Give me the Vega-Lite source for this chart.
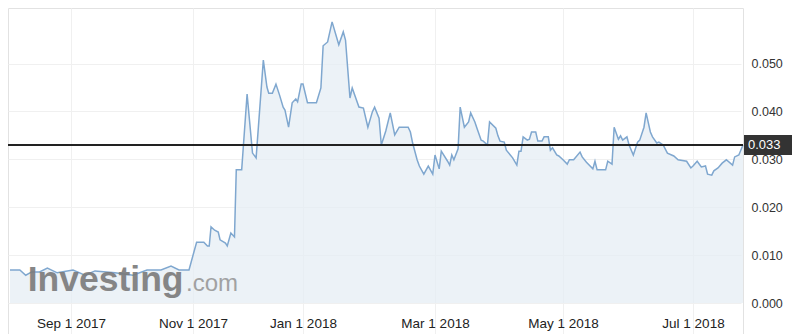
{
  "$schema": "https://vega.github.io/schema/vega-lite/v6.json",
  "width": 735,
  "height": 326,
  "autosize": "none",
  "padding": {"left": 8, "top": 8, "right": 57, "bottom": 0},
  "background": "white",
  "config": {"view": {"stroke": "#e2e2e2"}, "font": "Liberation Sans"},
  "datasets": {
    "price": [
      {"date": "2017-08-01", "value": 0.0069},
      {"date": "2017-08-06", "value": 0.0069},
      {"date": "2017-08-09", "value": 0.0058},
      {"date": "2017-08-12", "value": 0.0065},
      {"date": "2017-08-16", "value": 0.0065},
      {"date": "2017-08-20", "value": 0.0073},
      {"date": "2017-08-25", "value": 0.0063},
      {"date": "2017-09-02", "value": 0.0069},
      {"date": "2017-09-08", "value": 0.0058},
      {"date": "2017-09-13", "value": 0.0067},
      {"date": "2017-09-23", "value": 0.0063},
      {"date": "2017-10-02", "value": 0.0058},
      {"date": "2017-10-09", "value": 0.0069},
      {"date": "2017-10-16", "value": 0.0069},
      {"date": "2017-10-21", "value": 0.0077},
      {"date": "2017-10-25", "value": 0.0069},
      {"date": "2017-10-30", "value": 0.0069},
      {"date": "2017-11-03", "value": 0.0127},
      {"date": "2017-11-07", "value": 0.0127},
      {"date": "2017-11-09", "value": 0.0119},
      {"date": "2017-11-10", "value": 0.0119},
      {"date": "2017-11-11", "value": 0.0159},
      {"date": "2017-11-13", "value": 0.0152},
      {"date": "2017-11-15", "value": 0.0148},
      {"date": "2017-11-16", "value": 0.0132},
      {"date": "2017-11-19", "value": 0.0125},
      {"date": "2017-11-20", "value": 0.0119},
      {"date": "2017-11-22", "value": 0.0146},
      {"date": "2017-11-24", "value": 0.0138},
      {"date": "2017-11-25", "value": 0.0278},
      {"date": "2017-11-28", "value": 0.0278},
      {"date": "2017-12-01", "value": 0.0436},
      {"date": "2017-12-04", "value": 0.0313},
      {"date": "2017-12-06", "value": 0.0303},
      {"date": "2017-12-10", "value": 0.0507},
      {"date": "2017-12-12", "value": 0.0451},
      {"date": "2017-12-13", "value": 0.0438},
      {"date": "2017-12-15", "value": 0.0438},
      {"date": "2017-12-17", "value": 0.0457},
      {"date": "2017-12-19", "value": 0.0434},
      {"date": "2017-12-21", "value": 0.0409},
      {"date": "2017-12-22", "value": 0.0403},
      {"date": "2017-12-24", "value": 0.0367},
      {"date": "2017-12-26", "value": 0.0418},
      {"date": "2017-12-28", "value": 0.0426},
      {"date": "2017-12-29", "value": 0.0420},
      {"date": "2017-12-31", "value": 0.0457},
      {"date": "2018-01-01", "value": 0.0457},
      {"date": "2018-01-03", "value": 0.0418},
      {"date": "2018-01-07", "value": 0.0418},
      {"date": "2018-01-09", "value": 0.0449},
      {"date": "2018-01-10", "value": 0.0537},
      {"date": "2018-01-12", "value": 0.0545},
      {"date": "2018-01-14", "value": 0.0587},
      {"date": "2018-01-17", "value": 0.0539},
      {"date": "2018-01-19", "value": 0.0566},
      {"date": "2018-01-20", "value": 0.0549},
      {"date": "2018-01-22", "value": 0.0428},
      {"date": "2018-01-23", "value": 0.0449},
      {"date": "2018-01-26", "value": 0.0409},
      {"date": "2018-01-28", "value": 0.0407},
      {"date": "2018-01-30", "value": 0.0367},
      {"date": "2018-02-01", "value": 0.0399},
      {"date": "2018-02-02", "value": 0.0409},
      {"date": "2018-02-04", "value": 0.0386},
      {"date": "2018-02-05", "value": 0.0330},
      {"date": "2018-02-07", "value": 0.0359},
      {"date": "2018-02-09", "value": 0.0397},
      {"date": "2018-02-11", "value": 0.0351},
      {"date": "2018-02-13", "value": 0.0367},
      {"date": "2018-02-17", "value": 0.0367},
      {"date": "2018-02-18", "value": 0.0357},
      {"date": "2018-02-19", "value": 0.0334},
      {"date": "2018-02-21", "value": 0.0299},
      {"date": "2018-02-22", "value": 0.0286},
      {"date": "2018-02-24", "value": 0.0269},
      {"date": "2018-02-26", "value": 0.0286},
      {"date": "2018-02-28", "value": 0.0269},
      {"date": "2018-03-01", "value": 0.0309},
      {"date": "2018-03-03", "value": 0.0280},
      {"date": "2018-03-04", "value": 0.0317},
      {"date": "2018-03-07", "value": 0.0296},
      {"date": "2018-03-08", "value": 0.0288},
      {"date": "2018-03-09", "value": 0.0309},
      {"date": "2018-03-10", "value": 0.0299},
      {"date": "2018-03-12", "value": 0.0322},
      {"date": "2018-03-13", "value": 0.0409},
      {"date": "2018-03-15", "value": 0.0367},
      {"date": "2018-03-17", "value": 0.0378},
      {"date": "2018-03-18", "value": 0.0397},
      {"date": "2018-03-20", "value": 0.0378},
      {"date": "2018-03-21", "value": 0.0365},
      {"date": "2018-03-23", "value": 0.0340},
      {"date": "2018-03-24", "value": 0.0338},
      {"date": "2018-03-26", "value": 0.0330},
      {"date": "2018-03-27", "value": 0.0378},
      {"date": "2018-03-30", "value": 0.0365},
      {"date": "2018-03-31", "value": 0.0349},
      {"date": "2018-04-01", "value": 0.0338},
      {"date": "2018-04-03", "value": 0.0336},
      {"date": "2018-04-04", "value": 0.0319},
      {"date": "2018-04-07", "value": 0.0303},
      {"date": "2018-04-09", "value": 0.0288},
      {"date": "2018-04-10", "value": 0.0317},
      {"date": "2018-04-11", "value": 0.0317},
      {"date": "2018-04-12", "value": 0.0347},
      {"date": "2018-04-14", "value": 0.0340},
      {"date": "2018-04-15", "value": 0.0342},
      {"date": "2018-04-16", "value": 0.0357},
      {"date": "2018-04-18", "value": 0.0357},
      {"date": "2018-04-19", "value": 0.0338},
      {"date": "2018-04-21", "value": 0.0338},
      {"date": "2018-04-22", "value": 0.0347},
      {"date": "2018-04-24", "value": 0.0347},
      {"date": "2018-04-25", "value": 0.0319},
      {"date": "2018-04-26", "value": 0.0324},
      {"date": "2018-04-28", "value": 0.0309},
      {"date": "2018-04-29", "value": 0.0307},
      {"date": "2018-05-01", "value": 0.0299},
      {"date": "2018-05-03", "value": 0.0290},
      {"date": "2018-05-04", "value": 0.0299},
      {"date": "2018-05-06", "value": 0.0299},
      {"date": "2018-05-09", "value": 0.0315},
      {"date": "2018-05-10", "value": 0.0305},
      {"date": "2018-05-12", "value": 0.0294},
      {"date": "2018-05-15", "value": 0.0280},
      {"date": "2018-05-16", "value": 0.0296},
      {"date": "2018-05-17", "value": 0.0278},
      {"date": "2018-05-21", "value": 0.0278},
      {"date": "2018-05-22", "value": 0.0296},
      {"date": "2018-05-24", "value": 0.0290},
      {"date": "2018-05-25", "value": 0.0367},
      {"date": "2018-05-27", "value": 0.0342},
      {"date": "2018-05-28", "value": 0.0349},
      {"date": "2018-05-29", "value": 0.0340},
      {"date": "2018-05-31", "value": 0.0347},
      {"date": "2018-06-01", "value": 0.0330},
      {"date": "2018-06-03", "value": 0.0309},
      {"date": "2018-06-05", "value": 0.0336},
      {"date": "2018-06-06", "value": 0.0340},
      {"date": "2018-06-08", "value": 0.0367},
      {"date": "2018-06-09", "value": 0.0397},
      {"date": "2018-06-11", "value": 0.0357},
      {"date": "2018-06-12", "value": 0.0347},
      {"date": "2018-06-14", "value": 0.0334},
      {"date": "2018-06-15", "value": 0.0336},
      {"date": "2018-06-17", "value": 0.0330},
      {"date": "2018-06-19", "value": 0.0313},
      {"date": "2018-06-22", "value": 0.0307},
      {"date": "2018-06-24", "value": 0.0299},
      {"date": "2018-06-28", "value": 0.0296},
      {"date": "2018-06-30", "value": 0.0282},
      {"date": "2018-07-01", "value": 0.0286},
      {"date": "2018-07-03", "value": 0.0296},
      {"date": "2018-07-05", "value": 0.0284},
      {"date": "2018-07-07", "value": 0.0286},
      {"date": "2018-07-08", "value": 0.0269},
      {"date": "2018-07-10", "value": 0.0267},
      {"date": "2018-07-11", "value": 0.0276},
      {"date": "2018-07-13", "value": 0.0282},
      {"date": "2018-07-15", "value": 0.0292},
      {"date": "2018-07-17", "value": 0.0299},
      {"date": "2018-07-20", "value": 0.0288},
      {"date": "2018-07-21", "value": 0.0305},
      {"date": "2018-07-23", "value": 0.0309},
      {"date": "2018-07-25", "value": 0.0330}
    ],
    "last": [{"value": 0.033, "label": "0.033", "date": "2018-07-25"}],
    "logo": [{"brand": "Investing", "suffix": ".com", "brandDate": "2017-08-10", "suffixDate": "2017-10-27", "level": 0.0025}]
  },
  "layer": [
    {
      "data": {"name": "price", "format": {"parse": {"date": "date"}}},
      "mark": {"type": "area", "color": "#e4ecf4", "line": {"color": "#7fa7cf", "strokeWidth": 1.5}},
      "encoding": {
        "x": {
          "field": "date",
          "type": "quantitative",
          "scale": {
            "type": "linear",
            "nice": false,
            "zero": false,
            "domain": [1501545600000, 1504224000000, 1509494400000, 1514764800000, 1519862400000, 1525132800000, 1530403200000, 1532476800000],
            "range": [2, 63, 185, 295, 427, 555, 685, 735]
          },
          "axis": {
            "orient": "bottom",
            "offset": -31,
            "title": null,
            "values": [1504224000000, 1509494400000, 1514764800000, 1519862400000, 1525132800000, 1530403200000],
            "labelExpr": "utcFormat(datum.value, '%b %-d %Y')",
            "grid": true,
            "gridColor": "#f0f0f0",
            "ticks": false,
            "domain": false,
            "labelFontSize": 13.5,
            "labelColor": "#222222",
            "labelPadding": 24,
            "labelBaseline": "alphabetic",
            "labelFlush": false,
            "labelOverlap": false
          }
        },
        "y": {
          "field": "value",
          "type": "quantitative",
          "stack": null,
          "scale": {"domain": [-0.00647, 0.06159], "nice": false, "zero": false},
          "axis": {
            "orient": "right",
            "title": null,
            "values": [0, 0.01, 0.02, 0.03, 0.04, 0.05],
            "format": ".3f",
            "grid": true,
            "gridColor": "#f0f0f0",
            "ticks": false,
            "domain": false,
            "labelFontSize": 12.5,
            "labelColor": "#333333",
            "labelPadding": 8
          }
        },
        "y2": {"datum": 0}
      }
    },
    {
      "data": {"name": "logo", "format": {"parse": {"brandDate": "date"}}},
      "mark": {"type": "text", "align": "left", "baseline": "alphabetic", "fontSize": 35.5, "fontWeight": "bold", "color": "#7a7a7a", "opacity": 0.9},
      "encoding": {
        "x": {"field": "brandDate", "type": "quantitative"},
        "y": {"field": "level", "type": "quantitative"},
        "text": {"field": "brand"}
      }
    },
    {
      "data": {"name": "logo", "format": {"parse": {"suffixDate": "date"}}},
      "mark": {"type": "text", "align": "left", "baseline": "alphabetic", "fontSize": 24, "color": "#999999", "opacity": 0.9, "xOffset": 3},
      "encoding": {
        "x": {"field": "suffixDate", "type": "quantitative"},
        "y": {"field": "level", "type": "quantitative"},
        "text": {"field": "suffix"}
      }
    },
    {
      "data": {"name": "last"},
      "mark": {"type": "rule", "color": "#222222", "strokeWidth": 2},
      "encoding": {"y": {"field": "value", "type": "quantitative"}}
    },
    {
      "data": {"name": "last", "format": {"parse": {"date": "date"}}},
      "mark": {"type": "rect", "color": "#333333", "xOffset": 1, "x2Offset": 49, "yOffset": -10, "y2Offset": 10},
      "encoding": {
        "x": {"field": "date", "type": "quantitative"},
        "x2": {"field": "date"},
        "y": {"field": "value", "type": "quantitative"},
        "y2": {"field": "value"}
      }
    },
    {
      "data": {"name": "last", "format": {"parse": {"date": "date"}}},
      "mark": {"type": "text", "align": "left", "baseline": "middle", "fontSize": 13, "color": "white", "xOffset": 5},
      "encoding": {
        "x": {"field": "date", "type": "quantitative"},
        "y": {"field": "value", "type": "quantitative"},
        "text": {"field": "label"}
      }
    }
  ]
}
